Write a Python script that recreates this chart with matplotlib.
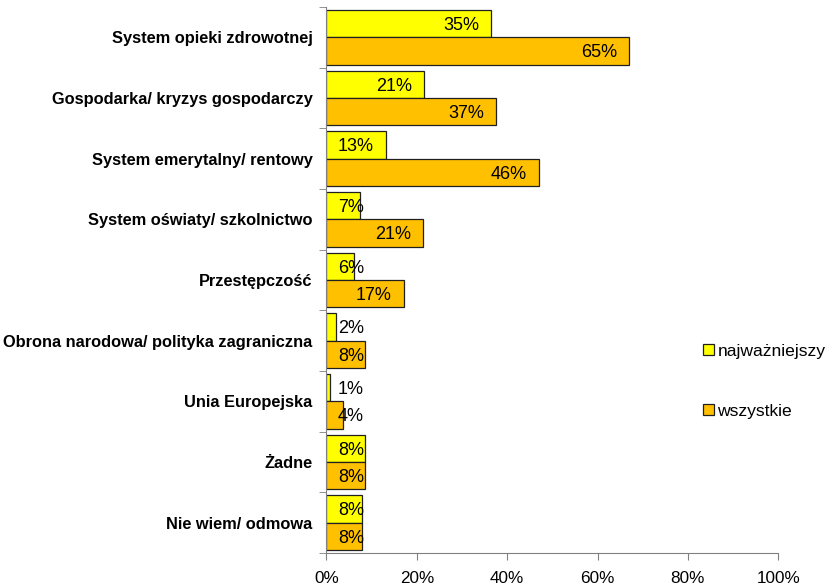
import numpy as np
import matplotlib.pyplot as plt
from matplotlib.patches import Patch
from matplotlib.ticker import FixedLocator

plt.rcParams['font.family'] = ['Liberation Sans', 'DejaVu Sans']

categories = ['System opieki zdrowotnej', 'Gospodarka/ kryzys gospodarczy',
              'System emerytalny/ rentowy', 'System oświaty/ szkolnictwo',
              'Przestępczość', 'Obrona narodowa/ polityka zagraniczna',
              'Unia Europejska', 'Żadne', 'Nie wiem/ odmowa']
najwazniejszy = [36.5, 21.5, 13.1, 7.4, 6.2, 2.1, 0.8, 8.5, 7.8]
wszystkie = [66.9, 37.5, 47.0, 21.4, 17.1, 8.6, 3.7, 8.5, 7.8]
lab_naj = ['35%', '21%', '13%', '7%', '6%', '2%', '1%', '8%', '8%']
lab_wsz = ['65%', '37%', '46%', '21%', '17%', '8%', '4%', '8%', '8%']

fig = plt.figure(figsize=(8.35, 5.86), dpi=100)
ax = fig.add_axes([0.391, 0.0563, 0.541, 0.9317])

y = np.arange(len(categories))
h = 0.45
ax.barh(y - h / 2, najwazniejszy, height=h, color='#FFFF00', edgecolor='#202020',
        linewidth=0.9, label='najważniejszy')
ax.barh(y + h / 2, wszystkie, height=h, color='#FFC000', edgecolor='#202020',
        linewidth=0.9, label='wszystkie')

# labels: inside end, but never closer to the axis than a minimum
for yy, v, t in zip(y - h / 2, najwazniejszy, lab_naj):
    ax.text(max(v - 2.6, 8.3), yy + 0.03, t, ha='right', va='center', fontsize=13)
for yy, v, t in zip(y + h / 2, wszystkie, lab_wsz):
    ax.text(max(v - 2.6, 8.3), yy + 0.03, t, ha='right', va='center', fontsize=13)

ax.set_xlim(0, 100)
ax.set_ylim(len(categories) - 0.5, -0.5)
ax.set_xticks(np.arange(0, 101, 20))
ax.set_xticklabels([f'{v}%' for v in range(0, 101, 20)], fontsize=12.3)
ax.set_yticks(y)
ax.set_yticklabels(categories, fontsize=11.8, fontweight='bold')
ax.yaxis.set_minor_locator(FixedLocator(np.arange(-0.5, len(categories), 1.0)))
ax.tick_params(axis='y', which='major', length=0, pad=10)
ax.tick_params(axis='y', which='minor', length=5, color='#808080')
ax.tick_params(axis='x', length=5, color='#808080', pad=8)

for s in ['top', 'right']:
    ax.spines[s].set_visible(False)
for s in ['left', 'bottom']:
    ax.spines[s].set_color('#808080')

handles = [Patch(facecolor='#FFFF00', edgecolor='#202020', linewidth=0.9),
           Patch(facecolor='#FFC000', edgecolor='#202020', linewidth=0.9)]
fig.legend(handles, ['najważniejszy', 'wszystkie'], loc='upper left',
           bbox_to_anchor=(0.832, 0.428), frameon=False, fontsize=12.6,
           handlelength=0.6, handleheight=0.6, handletextpad=0.2,
           labelspacing=2.55, borderpad=0)

fig.savefig('out.png', dpi=100)
